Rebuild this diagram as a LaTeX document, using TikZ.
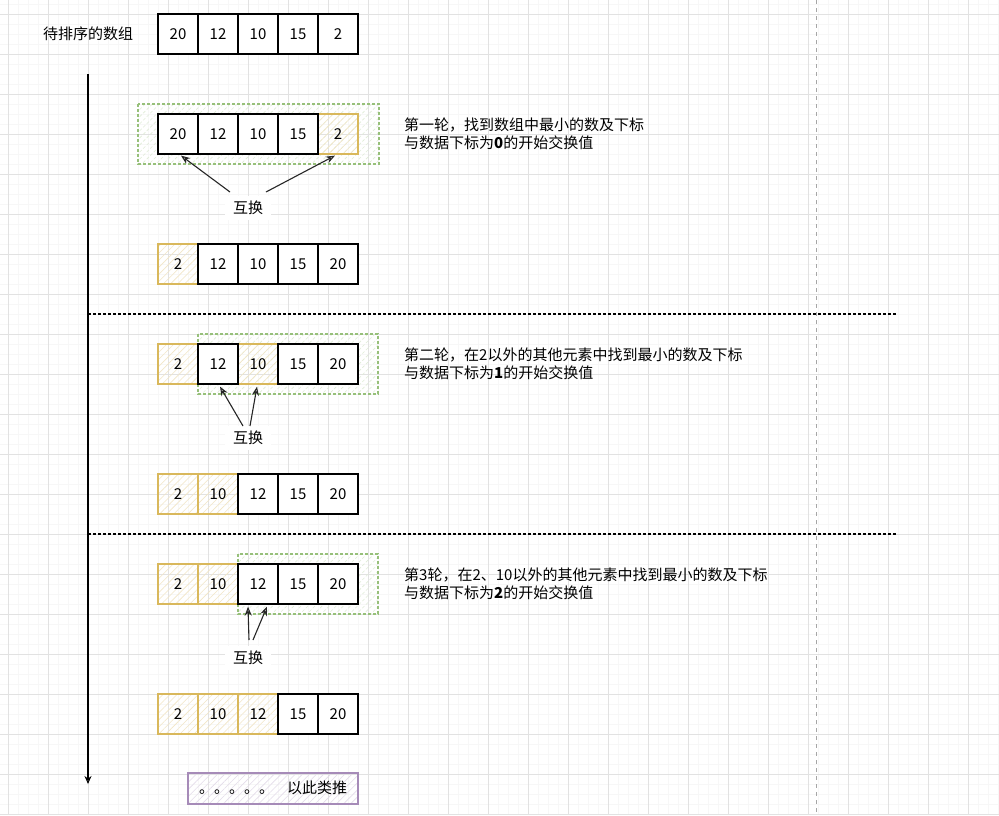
\documentclass[tikz,border=0pt]{standalone}
\usepackage{fontspec}
\setmainfont{Noto Sans CJK SC}
\usetikzlibrary{arrows.meta,patterns.meta}
\definecolor{ystroke}{HTML}{D9B85C}
\definecolor{gstroke}{HTML}{97C07A}
\definecolor{pstroke}{HTML}{A68BB8}
\definecolor{gridmajor}{HTML}{E2E2E2}
\definecolor{gridminor}{HTML}{F7F7F7}
\tikzset{
  cell/.style={draw=black, line width=1.2pt, fill=white, minimum width=40pt, minimum height=40pt, inner sep=0pt, font=\fontsize{15}{17}\selectfont},
  ycell/.style={draw=ystroke, line width=1.2pt, minimum width=40pt, minimum height=40pt, inner sep=0pt, font=\fontsize{15}{17}\selectfont,
    pattern={Lines[angle=45,distance=5pt,line width=0.6pt]}, pattern color=ystroke!35},
  greenbox/.style={draw=gstroke, line width=1.2pt, dash pattern=on 3pt off 2pt,
    pattern={Lines[angle=45,distance=5pt,line width=0.6pt]}, pattern color=gstroke!30},
  swaplabel/.style={fill=white, inner xsep=8pt, inner ysep=5pt, font=\fontsize{15}{17}\selectfont},
  note/.style={anchor=west, align=left, font=\fontsize{15}{17.5}\selectfont, inner sep=0pt},
  swaparrow/.style={draw=black!85, line width=1.1pt, -{Stealth[open,length=9pt,width=7pt]}},
  separator/.style={draw=black, line width=1.1pt, dash pattern=on 3pt off 2pt},
}
\begin{document}
\begin{tikzpicture}[x=1pt,y=-1pt]
\useasboundingbox (0,0) rectangle (999,815);
\fill[white] (0,0) rectangle (999,815);
% grid
\foreach \x in {-2,8,...,998} \draw[gridminor, line width=0.6pt] (\x,0) -- (\x,815);
\foreach \y in {4,14,...,814} \draw[gridminor, line width=0.6pt] (0,\y) -- (999,\y);
\foreach \x in {8,48,...,998} \draw[gridmajor, line width=0.8pt] (\x,0) -- (\x,815);
\foreach \y in {14,54,...,814} \draw[gridmajor, line width=0.8pt] (0,\y) -- (999,\y);
% gray dashed vertical
\draw[black!35, line width=0.8pt, dash pattern=on 4pt off 4pt] (816,0) -- (816,815);

% title
\node[font=\fontsize{15}{17}\selectfont] (title) at (88,34) {待排序的数组};
% row 0
\node[cell] (a1) at (178,34) {20};
\node[cell] (a2) at (218,34) {12};
\node[cell] (a3) at (258,34) {10};
\node[cell] (a4) at (298,34) {15};
\node[cell] (a5) at (338,34) {2};

% time axis
\coordinate (axtop) at (88,74);
\coordinate (axbot) at (88,784);
\draw[line width=1.1pt, -{Stealth[open,length=8pt,width=7pt]}] (axtop) -- (axbot);

% round 1
\draw[greenbox] (138,104) rectangle (379,164);
\node[ycell] (b5) at (338,134) {2};
\node[cell] (b1) at (178,134) {20};
\node[cell] (b2) at (218,134) {12};
\node[cell] (b3) at (258,134) {10};
\node[cell] (b4) at (298,134) {15};
\node[swaplabel] (s1) at (248,208) {互换};
\draw[swaparrow] ([shift={(-18,-16)}]s1.center) -- ([shift={(3,1)}]b1.south);
\draw[swaparrow] ([shift={(18,-16)}]s1.center) -- ([shift={(-3,1)}]b5.south);
\node[note] (t1) at (404,134) {第一轮，找到数组中最小的数及下标\\与数据下标为\textbf{0}的开始交换值};

\node[ycell] (c1) at (178,264) {2};
\node[cell] (c2) at (218,264) {12};
\node[cell] (c3) at (258,264) {10};
\node[cell] (c4) at (298,264) {15};
\node[cell] (c5) at (338,264) {20};

\coordinate (l1a) at (88,314);
\coordinate (l1b) at (896,314);
\draw[separator] (l1a) -- (l1b);

% round 2
\draw[greenbox] (198,334) rectangle (378,394);
\node[ycell] (d1) at (178,364) {2};
\node[ycell] (d3) at (258,364) {10};
\node[cell] (d2) at (218,364) {12};
\node[cell] (d4) at (298,364) {15};
\node[cell] (d5) at (338,364) {20};
\node[swaplabel] (s2) at (248,438) {互换};
\draw[swaparrow] ([shift={(-5,-12)}]s2.center) -- ([shift={(2,2)}]d2.south);
\draw[swaparrow] ([shift={(2,-12)}]s2.center) -- ([shift={(-1,2)}]d3.south);
\node[note] (t2) at (404,364) {第二轮，在2以外的其他元素中找到最小的数及下标\\与数据下标为\textbf{1}的开始交换值};

\node[ycell] (e1) at (178,494) {2};
\node[ycell] (e2) at (218,494) {10};
\node[cell] (e3) at (258,494) {12};
\node[cell] (e4) at (298,494) {15};
\node[cell] (e5) at (338,494) {20};

\coordinate (l2a) at (88,534);
\coordinate (l2b) at (896,534);
\draw[separator] (l2a) -- (l2b);

% round 3
\draw[greenbox] (238,554) rectangle (378,614);
\node[ycell] (f1) at (178,584) {2};
\node[ycell] (f2) at (218,584) {10};
\node[cell] (f3) at (258,584) {12};
\node[cell] (f4) at (298,584) {15};
\node[cell] (f5) at (338,584) {20};
\node[swaplabel] (s3) at (248,658) {互换};
\draw[swaparrow] ([shift={(1,-18)}]s3.center) -- ([shift={(-10,2)}]f3.south);
\draw[swaparrow] ([shift={(5,-18)}]s3.center) -- ([shift={(9,2)}]f3.south);
\node[note] (t3) at (404,584) {第3轮，在2、10以外的其他元素中找到最小的数及下标\\与数据下标为\textbf{2}的开始交换值};

\node[ycell] (g1) at (178,714) {2};
\node[ycell] (g2) at (218,714) {10};
\node[ycell] (g3) at (258,714) {12};
\node[cell] (g4) at (298,714) {15};
\node[cell] (g5) at (338,714) {20};

% etc
\node[draw=pstroke, line width=1.1pt, minimum width=170pt, minimum height=31pt, inner sep=0pt,
  pattern={Lines[angle=45,distance=5pt,line width=0.6pt]}, pattern color=pstroke!30] (etc) at (273,788.5) {};
\node[font=\fontsize{15}{17}\selectfont, anchor=west, inner sep=0pt] (etctext) at (199,788) {。。。。。\hspace{13pt}以此类推};
\end{tikzpicture}
\end{document}
